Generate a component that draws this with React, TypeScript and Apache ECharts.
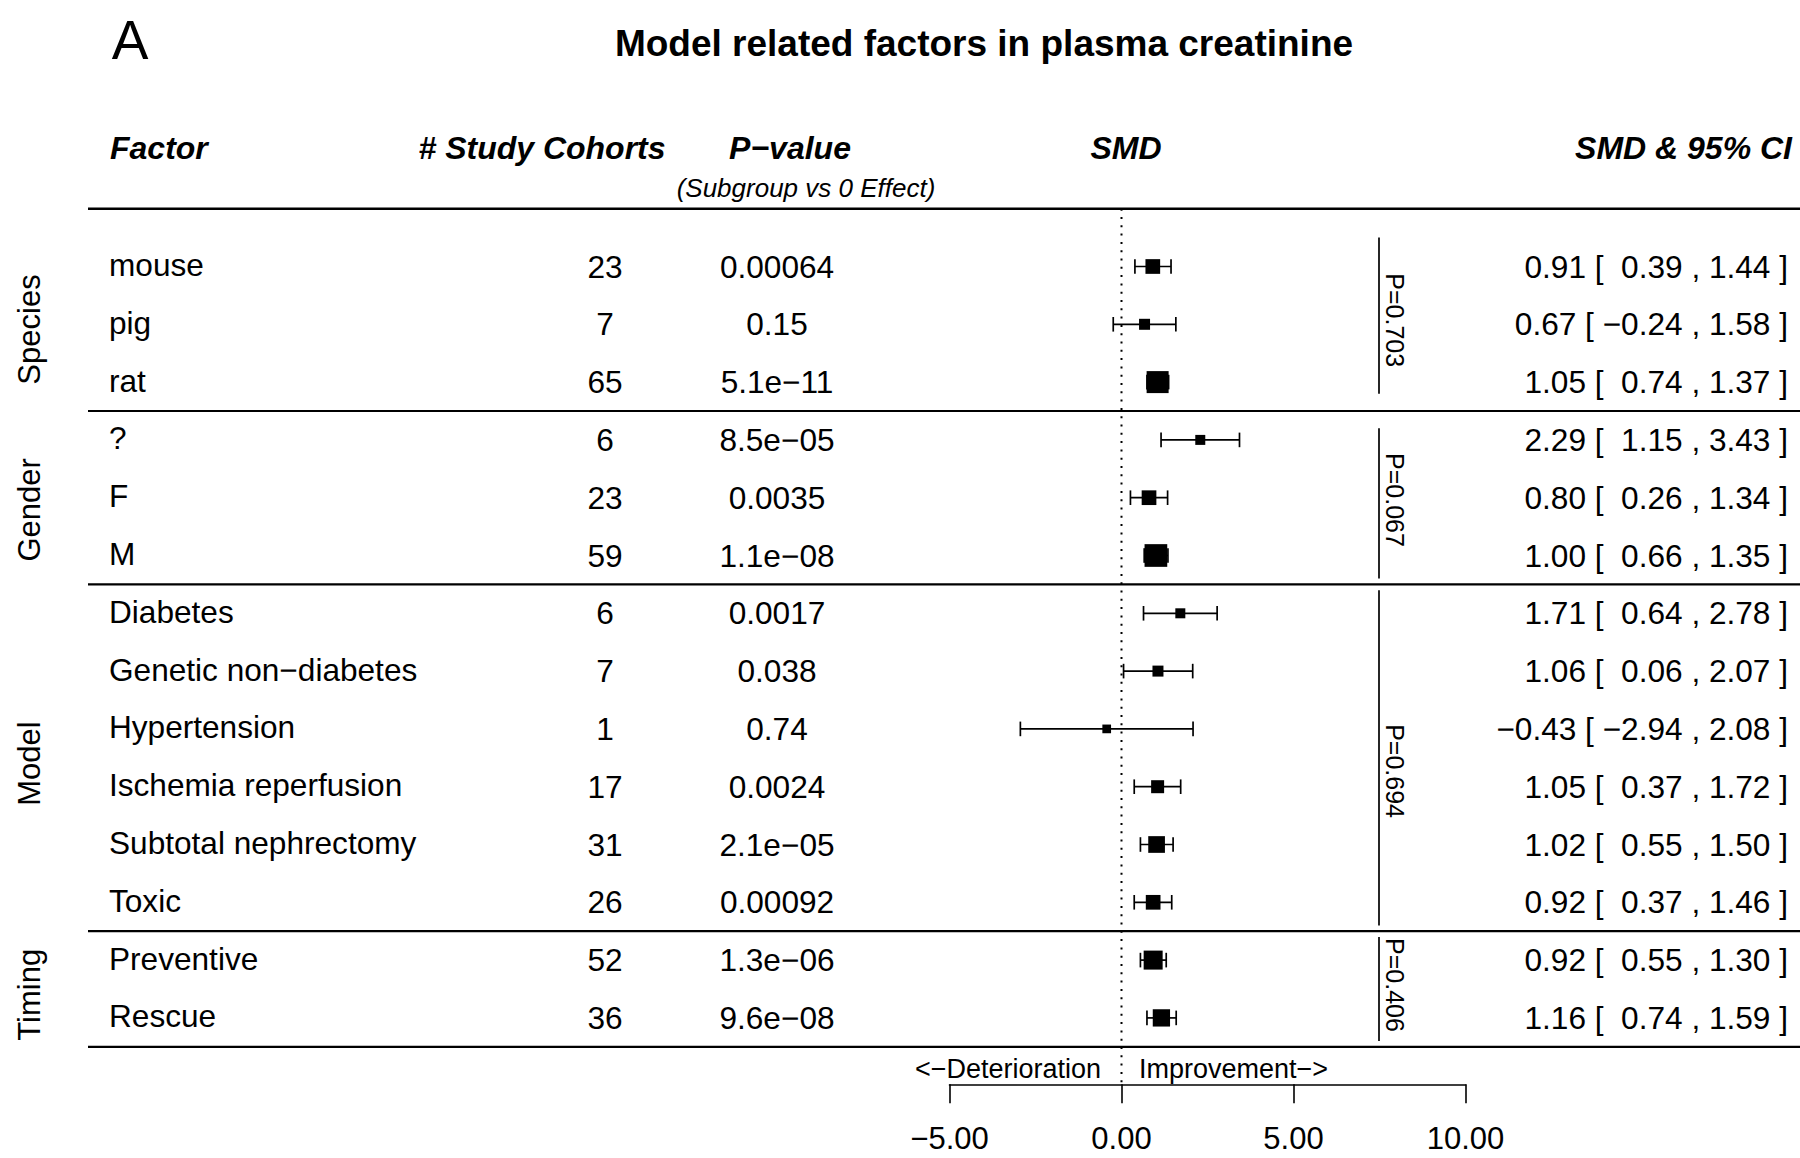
import React, { useEffect, useRef } from 'react';
import * as echarts from 'echarts';

// ---------- data ----------
const factors = ['mouse', 'pig', 'rat', '?', 'F', 'M', 'Diabetes', 'Genetic non\u2212diabetes', 'Hypertension', 'Ischemia reperfusion', 'Subtotal nephrectomy', 'Toxic', 'Preventive', 'Rescue'];
const cohorts = [23, 7, 65, 6, 23, 59, 6, 7, 1, 17, 31, 26, 52, 36];
const pValues = ['0.00064', '0.15', '5.1e\u221211', '8.5e\u221205', '0.0035', '1.1e\u221208', '0.0017', '0.038', '0.74', '0.0024', '2.1e\u221205', '0.00092', '1.3e\u221206', '9.6e\u221208'];
const smd = [0.91, 0.67, 1.05, 2.29, 0.80, 1.00, 1.71, 1.06, -0.43, 1.05, 1.02, 0.92, 0.92, 1.16];
const ciLower = [0.39, -0.24, 0.74, 1.15, 0.26, 0.66, 0.64, 0.06, -2.94, 0.37, 0.55, 0.37, 0.55, 0.74];
const ciUpper = [1.44, 1.58, 1.37, 3.43, 1.34, 1.35, 2.78, 2.07, 2.08, 1.72, 1.50, 1.46, 1.30, 1.59];
const boxWeight = [14.7, 11, 22, 10, 14.7, 22.7, 10, 11, 8.7, 13, 16.7, 14.7, 19, 17.3];
const groupNames = ['Species', 'Gender', 'Model', 'Timing'];
const groupFirstRow = [0, 3, 6, 12];
const groupLastRow = [2, 5, 11, 13];
const groupP = ['0.703', '0.067', '0.694', '0.406'];
const tickValues = [-5, 0, 5, 10];

// ---------- layout ----------
const FONT = '"Liberation Sans", Arial, Helvetica, sans-serif';
const BOX_SCALE = 1;
const ROW_TOP = -1;
const ROW_BOTTOM = 14.15;
const GRID_TOP = 208.7;
const ROW_PX = 57.8;
const GRID_H = (ROW_BOTTOM - ROW_TOP) * ROW_PX;
const TABLE_FONT = 31.6;
const TABLE_COLS = [
  { x: 109, align: 'left' },
  { x: 605, align: 'center' },
  { x: 777, align: 'center' },
  { x: 1788, align: 'right' },
];
const BRACKET_X = 1379;
const BRACKET_RANGE = [[-0.5, 2.2], [2.8, 5.4], [5.6, 11.4], [11.6, 13.4]];
const PTEXT_ROW = [0.93, 4.04, 8.73, 12.43];
const GLABEL_ROW = [1.09, 4.21, 8.6, 12.6];

const fmt = (v: number) => (v < 0 ? '\u2212' : '') + Math.abs(v).toFixed(2);
const ciText = (i: number) =>
  `${fmt(smd[i])} [ ${ciLower[i] >= 0 ? '\u00A0' : ''}${fmt(ciLower[i])} , ${fmt(ciUpper[i])} ]`;

const cellText = (c: number, r: number) => {
  if (c === 0) return factors[r];
  if (c === 1) return String(cohorts[r]);
  if (c === 2) return pValues[r];
  return ciText(r);
};

export default function App() {
  const ref = useRef<HTMLDivElement>(null);
  useEffect(() => {
    const chart = echarts.init(ref.current!, null, { renderer: 'svg' });

    const tableData: number[][] = [];
    factors.forEach((_, r) => { for (let c = 0; c < 4; c++) tableData.push([c, r]); });
    const sepRows = [ROW_TOP, ...groupLastRow.map((r) => r + 0.5)];

    const txt = (text: string, x: number, y: number, size: number, align: string, extra: any = {}) => ({
      type: 'text', x, y,
      style: {
        text, font: `${extra.style || 'normal'} ${extra.weight || 'normal'} ${size}px ${FONT}`,
        fill: '#000', align, textAlign: align, verticalAlign: 'middle', textVerticalAlign: 'middle',
      },
    });

    const option: any = {
      animation: false,
      backgroundColor: '#fff',
      grid: [
        { left: 949.5, width: 516, top: GRID_TOP, height: GRID_H },
        { left: 0, width: 1800, top: GRID_TOP, height: GRID_H },
      ],
      xAxis: [
        {
          gridIndex: 0, type: 'value', min: -5, max: 10, interval: 5,
          axisLine: { show: true, onZero: false, lineStyle: { color: '#000', width: 1.6 } },
          axisTick: { show: true, inside: false, length: 19, lineStyle: { color: '#000', width: 1.6 } },
          axisLabel: { show: true, color: '#000', fontSize: 31, lineHeight: 30, fontFamily: FONT, margin: 39, showMinLabel: true, showMaxLabel: true,
            formatter: (v: number) => (tickValues.includes(v) ? fmt(v) : '') },
          splitLine: { show: false },
        },
        { gridIndex: 1, type: 'value', min: 0, max: 1800, show: false },
      ],
      yAxis: [
        { gridIndex: 0, type: 'value', min: ROW_TOP, max: ROW_BOTTOM, inverse: true, show: false },
        { gridIndex: 1, type: 'value', min: ROW_TOP, max: ROW_BOTTOM, inverse: true, show: false },
      ],
      graphic: [
        txt('A', 130, 40, 55, 'center'),
        txt('Model related factors in plasma creatinine', 984, 43, 37, 'center', { weight: 'bold' }),
        txt('Factor', 110, 148, 32, 'left', { weight: 'bold', style: 'italic' }),
        txt('# Study Cohorts', 542, 148, 32, 'center', { weight: 'bold', style: 'italic' }),
        txt('P\u2212value', 790, 148, 32, 'center', { weight: 'bold', style: 'italic' }),
        txt('(Subgroup vs 0 Effect)', 806, 188, 26, 'center', { style: 'italic' }),
        txt('SMD', 1126, 148, 32, 'center', { weight: 'bold', style: 'italic' }),
        txt('SMD & 95% CI', 1792, 148, 32, 'right', { weight: 'bold', style: 'italic' }),
        txt('<\u2212Deterioration', 1101, 1069, 27, 'right'),
        txt('Improvement\u2212>', 1139, 1069, 27, 'left'),
      ],
      series: [
        // zero reference line (dotted)
        {
          type: 'custom', xAxisIndex: 0, yAxisIndex: 0, clip: false, silent: true,
          data: [[0]],
          renderItem: (params: any, api: any) => {
            const a = api.coord([api.value(0), ROW_TOP]);
            const b = api.coord([api.value(0), ROW_BOTTOM]);
            return { type: 'line', shape: { x1: a[0], y1: a[1], x2: b[0], y2: b[1] },
              style: { stroke: '#000', lineWidth: 2, lineDash: [2, 6.3] } };
          },
        },
        // forest marks
        {
          type: 'custom', xAxisIndex: 0, yAxisIndex: 0, clip: false, silent: true,
          encode: { x: [0, 1, 2], y: 3 },
          data: smd.map((v, i) => [v, ciLower[i], ciUpper[i], i, boxWeight[i]]),
          renderItem: (params: any, api: any) => {
            const row = api.value(3);
            const p0 = api.coord([api.value(1), row]);
            const p1 = api.coord([api.value(2), row]);
            const pc = api.coord([api.value(0), row]);
            const s = api.value(4) * BOX_SCALE;
            const cap = 7.3;
            const ls = { stroke: '#000', lineWidth: 1.7 };
            return {
              type: 'group',
              children: [
                { type: 'line', shape: { x1: p0[0], y1: p0[1], x2: p1[0], y2: p1[1] }, style: ls },
                { type: 'line', shape: { x1: p0[0], y1: p0[1] - cap, x2: p0[0], y2: p0[1] + cap }, style: ls },
                { type: 'line', shape: { x1: p1[0], y1: p1[1] - cap, x2: p1[0], y2: p1[1] + cap }, style: ls },
                { type: 'rect', shape: { x: pc[0] - s / 2, y: pc[1] - s / 2, width: s, height: s }, style: { fill: '#000' } },
              ],
            };
          },
        },
        // horizontal separator lines
        {
          type: 'custom', xAxisIndex: 1, yAxisIndex: 1, clip: false, silent: true,
          data: sepRows.map((r) => [r]),
          renderItem: (params: any, api: any) => {
            const r = api.value(0);
            const a = api.coord([88, r]);
            const b = api.coord([1800, r]);
            return { type: 'line', shape: { x1: a[0], y1: a[1], x2: b[0], y2: b[1] },
              style: { stroke: '#000', lineWidth: params.dataIndex === 0 ? 2.6 : 2.2 } };
          },
        },
        // table cells
        {
          type: 'custom', xAxisIndex: 1, yAxisIndex: 1, clip: false, silent: true,
          data: tableData,
          renderItem: (params: any, api: any) => {
            const c = api.value(0);
            const r = api.value(1);
            const col = TABLE_COLS[c];
            const p = api.coord([col.x, r]);
            return {
              type: 'text', x: p[0], y: p[1] - (c === 0 ? 1.5 : 0),
              style: { text: cellText(c, r), font: `${TABLE_FONT}px ${FONT}`, fill: '#000',
                align: col.align, textAlign: col.align, verticalAlign: 'middle', textVerticalAlign: 'middle' },
            };
          },
        },
        // group labels, brackets and heterogeneity p-values
        {
          type: 'custom', xAxisIndex: 1, yAxisIndex: 1, clip: false, silent: true,
          data: groupNames.map((_, i) => [groupFirstRow[i], groupLastRow[i], i]),
          renderItem: (params: any, api: any) => {
            const i = api.value(2);
            const a = api.coord([BRACKET_X, BRACKET_RANGE[i][0]]);
            const b = api.coord([BRACKET_X, BRACKET_RANGE[i][1]]);
            const pt = api.coord([1395, PTEXT_ROW[i]]);
            const gl = api.coord([29, GLABEL_ROW[i]]);
            return {
              type: 'group',
              children: [
                { type: 'line', shape: { x1: a[0], y1: a[1], x2: b[0], y2: b[1] }, style: { stroke: '#000', lineWidth: 1.7 } },
                { type: 'text', x: pt[0], y: pt[1], rotation: -Math.PI / 2,
                  style: { text: 'P=' + groupP[i], font: `25px ${FONT}`, fill: '#000',
                    align: 'center', textAlign: 'center', verticalAlign: 'middle', textVerticalAlign: 'middle' } },
                { type: 'text', x: gl[0], y: gl[1], rotation: Math.PI / 2,
                  style: { text: groupNames[i], font: `31px ${FONT}`, fill: '#000',
                    align: 'center', textAlign: 'center', verticalAlign: 'middle', textVerticalAlign: 'middle' } },
              ],
            };
          },
        },
      ],
    };
    chart.setOption(option);
    return () => chart.dispose();
  }, []);

  return <div ref={ref} style={{ position: 'absolute', left: 0, top: 0, width: 1800, height: 1158 }} />;
}
